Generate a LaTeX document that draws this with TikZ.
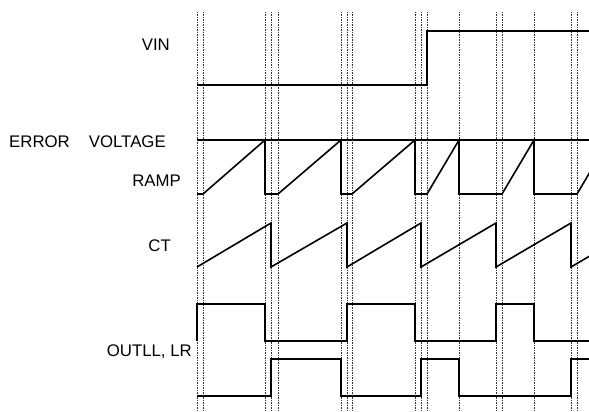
\documentclass[tikz,border=0pt]{standalone}
\usepackage{fontspec}
\setmainfont{Liberation Sans}
\begin{document}
\begin{tikzpicture}[x=1pt,y=-1pt,
  sig/.style={line width=1.6pt, line join=miter},
  grid/.style={line width=0.5pt, dash pattern=on 1.5pt off 1pt, black!80},
  lbl/.style={inner sep=0pt, font=\fontsize{16.8}{19}\selectfont}]
\useasboundingbox (0,0) rectangle (589,412);
% dashed guide lines
\foreach \x in {197,203,265,271,278,341,347,352,415,421,427,459,496,502,534,571,577}
  \draw[grid] (\x,12) -- (\x,412);
% labels
\node[lbl, anchor=base east] (vin) at (170,51) {VIN};
\node[lbl, anchor=base west] (err) at (9,147.5) {ERROR\hspace{19pt}VOLTAGE};
\node[lbl, anchor=base east] (ramp) at (181,186) {RAMP};
\node[lbl, anchor=base east] (ct) at (171,251) {CT};
\node[lbl, anchor=base east] (out) at (192,356) {OUTLL, LR};
% VIN
\draw[sig] (197,85) -- (427,85) -- (427,31) -- (589,31);
% error voltage
\draw[sig] (197,140) -- (589,140);
% ramp
\begin{scope}
\clip (190,0) rectangle (589,412);
\draw[sig] (197,194) -- (203,194) -- (265,140) -- (265,194) -- (278,194) -- (341,140) -- (341,194)
  -- (352,194) -- (415,140) -- (415,194) -- (427,194) -- (459,140) -- (459,194) -- (502,194)
  -- (534,140) -- (534,194) -- (577,194) -- (609,140);
% CT
\draw[sig] (197,267) -- (271,223) -- (271,267) -- (347,223) -- (347,267) -- (421,223) -- (421,267)
  -- (496,223) -- (496,267) -- (571,223) -- (571,267) -- (646,223);
\end{scope}
% OUT A
\draw[sig] (197,341) -- (197,304) -- (265,304) -- (265,341) -- (347,341) -- (347,304) -- (415,304)
  -- (415,341) -- (496,341) -- (496,304) -- (534,304) -- (534,341) -- (589,341);
% OUT B
\draw[sig] (197,396) -- (271,396) -- (271,359) -- (341,359) -- (341,396) -- (421,396) -- (421,359)
  -- (459,359) -- (459,396) -- (571,396) -- (571,359) -- (589,359);
\end{tikzpicture}
\end{document}
